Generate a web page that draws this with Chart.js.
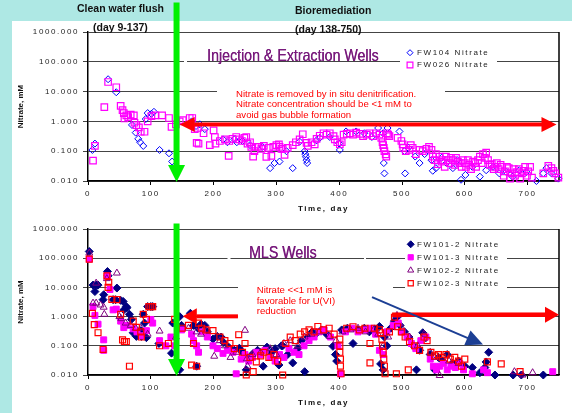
<!DOCTYPE html>
<html>
<head>
<meta charset="utf-8">
<script src="https://cdn.jsdelivr.net/npm/chart.js@4/dist/chart.umd.min.js"></script>
<style>
  html, body { margin: 0; padding: 0; }
  body { width: 572px; height: 413px; background: #aee8e4; position: relative; overflow: hidden; }
  #panel { position: absolute; left: 12px; top: 21px; width: 560px; height: 392px; background: #fff; }
  canvas { position: absolute; left: 0; }
  #wellChart { top: 0; }
  #mlsChart { top: 215px; }
</style>
</head>
<body>
<div id="panel"></div>
<canvas id="wellChart" width="572" height="215"></canvas>
<canvas id="mlsChart" width="572" height="198"></canvas>
<script>
//-- axis ticks --
const xTickValues = [0, 100, 200, 300, 400, 500, 600, 700];
const yTickValues = [0.01, 0.1, 1, 10, 100, 1000];
const yTickLabels = ['0.010', '0.100', '1.000', '10.000', '100.000', '1000.000'];

//-- Injection & Extraction wells, [day, nitrate mM] --
const fw104Label = 'FW104 Nitrate';
const fw104Nitrate = [
  [7,0.11],[11,0.18],[32,26],[45,9.5],[70,0.76],[76,0.42],[80,0.26],[83,0.2],[88,0.15],[92,1.2],
  [95,1.9],[101,1.8],[105,2.1],[114,0.11],[129,0.085],[134,0.045],[165,1.0],[172,0.7],[178,0.8],[186,0.55],
  [215,0.25],[222,0.2],[233,0.25],[237,0.2],[246,0.22],[258,0.16],[278,0.14],[290,0.027],[297,0.04],[305,0.045],
  [316,0.1],[326,0.027],[337,0.21],[345,0.1],[346,0.08],[347,0.065],[348,0.05],[349,0.04],[364,0.23],[369,0.28],
  [385,0.3],[400,0.18],[401,0.11],[411,0.46],[427,0.46],[440,0.4],[452,0.3],[462,0.6],[470,0.4],[471,0.04],
  [472,0.018],[477,0.6],[496,0.46],[504,0.1],[505,0.018],[510,0.13],[521,0.066],[528,0.04],[536,0.08],[547,0.05],
  [549,0.022],[554,0.027],[563,0.06],[571,0.04],[581,0.027],[588,0.05],[594,0.011],[601,0.016],[612,0.03],[624,0.014],
  [634,0.023],[645,0.03],[655,0.018],[666,0.02],[676,0.014],[687,0.023],[698,0.02],[714,0.01],[725,0.018],[730,0.027],
  [738,0.018],[749,0.012]
];
const fw026Label = 'FW026 Nitrate';
const fw026Nitrate = [
  [8,0.048],[11,0.15],[26,3.0],[32,21],[45,14],[52,3.3],[55,2.4],[57,1.9],[58,1.25],[61,1.6],
  [64,1.4],[68,1.7],[73,1.6],[74,0.9],[77,0.75],[81,0.63],[84,0.45],[90,0.45],[95,1.0],[101,1.5],
  [107,1.6],[118,1.6],[129,1.3],[133,0.66],[140,0.8],[146,1.0],[151,1.1],[162,1.3],[166,1.3],[170,0.55],
  [173,0.19],[175,0.6],[176,0.18],[184,0.4],[194,0.16],[200,0.5],[202,0.3],[203,0.18],[210,0.22],[218,0.25],
  [224,0.07],[225,0.22],[230,0.26],[236,0.3],[241,0.25],[245,0.22],[249,0.28],[252,0.3],[254,0.18],[258,0.2],
  [260,0.14],[263,0.066],[265,0.1],[267,0.14],[272,0.14],[276,0.12],[280,0.15],[284,0.065],[288,0.13],[292,0.07],
  [295,0.14],[300,0.16],[304,0.17],[305,0.14],[308,0.12],[310,0.12],[313,0.075],[318,0.13],[326,0.16],[331,0.2],
  [337,0.25],[342,0.37],[348,0.19],[350,0.15],[356,0.2],[361,0.17],[364,0.26],[369,0.33],[375,0.4],[380,0.36],
  [385,0.4],[391,0.32],[393,0.25],[397,0.2],[401,0.17],[404,0.2],[407,0.36],[412,0.38],[417,0.4],[422,0.36],
  [427,0.42],[433,0.38],[438,0.32],[444,0.36],[448,0.4],[454,0.32],[459,0.4],[464,0.36],[467,0.28],[469,0.2],
  [470,0.16],[471,0.13],[472,0.1],[474,0.078],[475,0.066],[476,0.4],[478,0.36],[480,0.32],[493,0.28],[499,0.22],
  [501,0.17],[502,0.13],[506,0.1],[512,0.11],[514,0.16],[517,0.13],[522,0.08],[528,0.11],[533,0.1],[539,0.12],
  [543,0.14],[547,0.11],[549,0.066],[552,0.05],[554,0.08],[557,0.037],[560,0.066],[563,0.045],[565,0.05],[568,0.03],
  [570,0.066],[573,0.05],[576,0.04],[578,0.06],[581,0.05],[584,0.035],[586,0.06],[589,0.045],[592,0.04],[595,0.03],
  [597,0.05],[600,0.04],[602,0.03],[605,0.05],[607,0.035],[610,0.025],[613,0.045],[616,0.04],[618,0.03],[621,0.05],
  [624,0.066],[627,0.04],[629,0.08],[632,0.06],[634,0.09],[637,0.05],[640,0.035],[643,0.037],[646,0.025],[648,0.03],
  [651,0.04],[654,0.025],[657,0.035],[659,0.03],[662,0.015],[664,0.021],[667,0.03],[670,0.027],[672,0.012],[675,0.018],
  [678,0.025],[680,0.015],[683,0.02],[686,0.025],[688,0.012],[691,0.018],[694,0.022],[696,0.03],[699,0.015],[701,0.021],
  [704,0.03],[707,0.013],[725,0.018],[733,0.032],[738,0.027],[741,0.022],[744,0.018],[749,0.013]
];

//-- MLS wells, [day, nitrate mM] --
const fw101_2Label = 'FW101-2 Nitrate';
const fw101_2Nitrate = [
  [2,170],[8,12],[11,7.2],[13,12],[16,12],[24,3.8],[25,5.6],[31,35],[32,25],[40,3.8],
  [44,3.8],[46,9.5],[52,3.6],[56,3.3],[57,1.7],[61,2.2],[62,2.0],[66,1.2],[69,0.8],[72,0.28],
  [77,0.21],[84,0.33],[85,0.21],[88,1.2],[90,0.6],[93,0.19],[95,2.2],[100,2.2],[103,2.2],[113,0.12],
  [133,0.056],[135,0.6],[146,1.0],[146,0.015],[149,0.5],[163,1.3],[168,0.5],[173,0.02],[175,0.4],[180,0.55],
  [186,0.5],[190,0.3],[199,0.17],[206,0.21],[212,0.2],[216,0.13],[224,0.09],[233,0.07],[241,0.083],[246,0.06],
  [252,0.015],[258,0.04],[263,0.055],[270,0.07],[279,0.02],[285,0.09],[292,0.06],[298,0.08],[304,0.022],[308,0.1],
  [310,0.1],[318,0.05],[326,0.026],[334,0.08],[340,0.15],[345,0.013],[350,0.2],[357,0.3],[364,0.27],[372,0.35],
  [380,0.25],[390,0.096],[394,0.05],[396,0.03],[404,0.35],[413,0.4],[422,0.12],[430,0.35],[440,0.4],[448,0.3],
  [456,0.38],[464,0.46],[466,0.024],[470,0.015],[472,0.2],[476,0.1],[482,0.4],[488,0.7],[492,0.95],[497,0.5],
  [504,0.3],[511,0.2],[518,0.1],[523,0.015],[528,0.07],[533,0.28],[538,0.19],[545,0.05],[552,0.015],[558,0.04],
  [565,0.03],[572,0.05],[580,0.025],[590,0.03],[600,0.02],[612,0.018],[624,0.012],[632,0.018],[634,0.028],[638,0.06],
  [648,0.01],[677,0.01],[690,0.01],[725,0.01]
];
const fw101_3Label = 'FW101-3 Nitrate';
const fw101_3Nitrate = [
  [2,93],[8,2.2],[11,1.1],[16,0.55],[25,0.16],[25,0.07],[31,25],[35,8.5],[40,1.7],[45,1.8],
  [52,0.7],[57,0.42],[62,0.5],[72,0.38],[78,0.3],[85,0.22],[93,0.33],[100,0.8],[103,0.6],[114,0.15],
  [124,0.1],[132,0.2],[138,0.1],[149,0.35],[165,0.25],[168,0.15],[173,0.1],[176,0.06],[182,0.3],[190,0.2],
  [199,0.1],[206,0.08],[215,0.055],[222,0.07],[231,0.06],[236,0.011],[244,0.035],[250,0.05],[256,0.03],[262,0.04],
  [268,0.06],[275,0.05],[282,0.07],[290,0.04],[298,0.03],[305,0.05],[312,0.04],[320,0.08],[328,0.06],[336,0.05],
  [344,0.1],[352,0.15],[360,0.2],[368,0.3],[376,0.35],[386,0.2],[398,0.1],[402,0.011],[410,0.3],[420,0.4],
  [430,0.3],[440,0.35],[450,0.4],[458,0.25],[464,0.07],[470,0.05],[476,0.3],[486,0.5],[494,0.6],[500,0.3],
  [508,0.2],[515,0.12],[522,0.08],[530,0.15],[538,0.2],[545,0.035],[550,0.02],[555,0.015],[560,0.02],[566,0.025],
  [572,0.015],[578,0.02],[585,0.018],[592,0.025],[598,0.015],[612,0.011],[630,0.015],[636,0.012],[740,0.013]
];
const fw102_2Label = 'FW102-2 Nitrate';
const fw102_2Nitrate = [
  [2,150],[8,2.9],[13,14],[13,2.9],[20,2.5],[25,2.1],[26,1.2],[30,20],[46,31],[50,1.0],
  [53,0.85],[60,0.6],[68,0.5],[76,0.4],[84,0.4],[95,0.25],[114,0.32],[140,0.2],[160,0.4],[173,0.3],
  [180,0.25],[190,0.35],[201,0.044],[210,0.15],[218,0.1],[227,0.04],[236,0.06],[250,0.34],[253,0.036],[254,0.02],
  [262,0.05],[275,0.06],[290,0.08],[300,0.05],[312,0.12],[322,0.15],[334,0.1],[345,0.2],[356,0.25],[368,0.3],
  [385,0.21],[395,0.15],[405,0.3],[418,0.35],[430,0.4],[442,0.3],[455,0.35],[462,0.25],[470,0.1],[478,0.2],
  [492,1.1],[500,0.4],[512,0.2],[525,0.1],[535,0.25],[545,0.06],[552,0.04],[560,0.0096],[575,0.03],[590,0.025],
  [679,0.013],[692,0.01],[708,0.012]
];
const fw102_3Label = 'FW102-3 Nitrate';
const fw102_3Nitrate = [
  [2,93],[7,1.3],[10,0.53],[16,0.28],[24,0.075],[30,25],[32,10],[33,15],[38,3.9],[46,3.8],
  [52,1.2],[55,0.16],[58,0.14],[61,0.14],[66,0.02],[72,0.7],[77,0.43],[84,0.3],[85,0.2],[88,1.2],
  [93,0.8],[97,2.2],[100,2.2],[103,2.2],[114,0.1],[128,0.12],[138,0.8],[150,0.4],[160,0.5],[165,0.022],
  [168,0.12],[173,0.02],[176,0.6],[181,0.4],[188,0.35],[199,0.33],[210,0.2],[218,0.15],[226,0.12],[233,0.08],
  [240,0.24],[246,0.06],[250,0.12],[252,0.01],[258,0.04],[263,0.013],[268,0.028],[275,0.045],[280,0.06],[288,0.04],
  [296,0.05],[302,0.03],[310,0.01],[315,0.12],[322,0.2],[330,0.15],[338,0.25],[345,0.3],[352,0.35],[360,0.3],
  [366,0.46],[375,0.35],[384,0.4],[392,0.25],[401,0.17],[401,0.1],[401,0.06],[402,0.035],[402,0.02],[403,0.011],
  [412,0.4],[422,0.45],[432,0.35],[441,0.4],[449,0.12],[449,0.026],[456,0.4],[464,0.35],[466,0.28],[468,0.17],
  [469,0.1],[470,0.06],[471,0.035],[472,0.02],[473,0.011],[480,0.3],[488,0.95],[491,0.011],[493,0.45],[499,0.3],
  [505,0.2],[510,0.015],[512,0.14],[520,0.1],[528,0.07],[535,0.2],[540,0.15],[546,0.06],[552,0.045],[558,0.05],
  [564,0.04],[570,0.05],[577,0.035],[584,0.04],[590,0.03],[595,0.02],[600,0.035],[636,0.028],[658,0.024],[688,0.013]
];

const FONT = '"Liberation Sans", Arial, sans-serif';
Chart.defaults.font.family = FONT;

const toXY = pts => pts.map(p => ({ x: p[0], y: p[1] }));

//-- draws a filled arrow from (x1,y1) to (x2,y2), pixels --
function drawArrow(ctx, x1, y1, x2, y2, s) {
  const len = Math.hypot(x2 - x1, y2 - y1);
  const hl = s.headLength, hw = s.headWidth;
  const start = s.both ? hl : 0;
  ctx.save();
  ctx.translate(x1, y1);
  ctx.rotate(Math.atan2(y2 - y1, x2 - x1));
  ctx.fillStyle = s.color;
  ctx.fillRect(start - 0.5, -s.width / 2, len - hl - start + 1, s.width);
  ctx.beginPath();
  ctx.moveTo(len, 0); ctx.lineTo(len - hl, -hw); ctx.lineTo(len - hl, hw); ctx.closePath();
  if (s.both) { ctx.moveTo(0, 0); ctx.lineTo(hl, -hw); ctx.lineTo(hl, hw); ctx.closePath(); }
  ctx.fill();
  ctx.restore();
}

//-- plugin: frame, text boxes, legend, arrows, page headers --
const wellNotes = {
  id: 'wellNotes',
  beforeDraw(chart) {
    chart.ctx.letterSpacing = '1.6px';
  },
  beforeDatasetsDraw(chart, args, o) {
    const { ctx, chartArea: a } = chart;
    ctx.save();
    ctx.strokeStyle = '#000';
    ctx.lineWidth = 1.5;
    ctx.beginPath(); ctx.moveTo(a.right, a.top); ctx.lineTo(a.right, a.bottom); ctx.stroke();

    //-- white text boxes break the grid lines --
    ctx.fillStyle = '#fff';
    o.boxes.forEach(b => ctx.fillRect(b[0], b[1], b[2], b[3]));

    ctx.letterSpacing = '0px';
    ctx.textAlign = 'left';
    ctx.textBaseline = 'alphabetic';
    ctx.fillStyle = '#781a7c';
    ctx.font = '16.5px ' + FONT;
    ctx.save();
    ctx.translate(o.title.x, o.title.y);
    ctx.scale(0.86, 1);
    ctx.fillText(o.title.text, 0, 0);
    ctx.fillText(o.title.text, 0.35, 0);
    ctx.restore();

    ctx.fillStyle = '#ff0000';
    ctx.font = '9.6px ' + FONT;
    o.note.lines.forEach((t, i) => ctx.fillText(t, o.note.x, o.note.y + i * o.note.lineHeight));

    //-- legend --
    ctx.letterSpacing = '1.6px';
    ctx.font = '8px ' + FONT;
    ctx.textBaseline = 'middle';
    chart.data.datasets.forEach((ds, i) => {
      const y = o.legend.y + i * o.legend.rowHeight;
      ctx.fillStyle = ds.backgroundColor;
      ctx.strokeStyle = ds.borderColor;
      ctx.lineWidth = ds.borderWidth;
      Chart.helpers.drawPoint(ctx, { pointStyle: ds.pointStyle, radius: ds.pointRadius - 0.5, rotation: 0, borderWidth: ds.borderWidth }, o.legend.x, y);
      ctx.fillStyle = '#222';
      ctx.fillText(ds.label, o.legend.textX, y);
    });
    ctx.restore();
  },
  afterDatasetsDraw(chart, args, o) {
    const { ctx, chartArea: a, scales: { x, y } } = chart;
    o.arrows.forEach(ar => {
      if (ar.drop) {
        const px = x.getPixelForValue(ar.day);
        drawArrow(ctx, px, ar.top, px, a.bottom + 1, ar);
      } else {
        drawArrow(ctx, x.getPixelForValue(ar.x1), y.getPixelForValue(ar.y1),
          x.getPixelForValue(ar.x2), y.getPixelForValue(ar.y2), ar);
      }
    });
  },
  afterDraw(chart, args, o) {
    const { ctx, chartArea: a } = chart;
    ctx.save();
    ctx.letterSpacing = '0px';
    ctx.fillStyle = '#111';
    ctx.font = 'bold 8px ' + FONT;
    ctx.textAlign = 'center';
    ctx.textBaseline = 'middle';
    ctx.translate(21, (a.top + a.bottom) / 2);
    ctx.rotate(-Math.PI / 2);
    ctx.fillText('Nitrate, mM', 0, 0);
    ctx.restore();

    ctx.save();
    ctx.letterSpacing = '0px';
    ctx.fillStyle = '#111';
    ctx.font = 'bold 10.5px ' + FONT;
    ctx.textAlign = 'left';
    ctx.textBaseline = 'middle';
    (o.header || []).forEach(h => ctx.fillText(h.text, h.x, h.y));
    ctx.restore();
  }
};

function buildOptions(cfg) {
  return {
    responsive: false,
    animation: false,
    events: [],
    layout: { padding: { left: 0, right: 13, top: cfg.top, bottom: 0 } },
    scales: {
      x: {
        type: 'linear', min: 0, max: 750,
        afterBuildTicks: s => { s.ticks = xTickValues.map(v => ({ value: v })); },
        afterFit: s => { s.height = cfg.xHeight; },
        ticks: { autoSkip: false, maxRotation: 0, padding: 4, color: '#1e1e1e', font: { size: 8 } },
        grid: { drawOnChartArea: false, tickLength: 4, color: '#000' },
        border: { color: '#000', width: 1.5 },
        title: { display: true, text: 'Time, day', color: '#111', font: { size: 8, weight: 'bold' }, padding: { top: 0, bottom: cfg.titlePad } }
      },
      y: {
        type: 'logarithmic', min: 0.01, max: 1000,
        afterBuildTicks: s => { s.ticks = yTickValues.map(v => ({ value: v })); },
        afterFit: s => { s.width = 88; },
        ticks: { padding: 4, color: '#1e1e1e', font: { size: 8 }, callback: v => yTickLabels[yTickValues.indexOf(v)] },
        grid: { color: '#444', lineWidth: 1, tickLength: 5 },
        border: { color: '#000', width: 1.5 }
      }
    },
    plugins: {
      legend: { display: false },
      tooltip: { enabled: false },
      wellNotes: cfg.notes
    }
  };
}

const green = { color: '#00f000', width: 6, headLength: 17, headWidth: 8.5 };
const red = { color: '#ff0000', width: 4, headLength: 15, headWidth: 7.5 };

//-- Injection & Extraction wells chart --
new Chart(document.getElementById('wellChart'), {
  type: 'scatter',
  data: {
    datasets: [
      { label: fw104Label, data: toXY(fw104Nitrate), pointStyle: 'rectRot', pointRadius: 3.5, borderWidth: 1, borderColor: '#0000ff', backgroundColor: 'rgba(0,0,0,0)', order: 2, clip: false },
      { label: fw026Label, data: toXY(fw026Nitrate), pointStyle: 'rect', pointRadius: 4.6, borderWidth: 1.2, borderColor: '#ff00ff', backgroundColor: 'rgba(0,0,0,0)', order: 1, clip: false }
    ]
  },
  options: buildOptions({
    top: 32, xHeight: 34, titlePad: 1.6,
    notes: {
      boxes: [[184, 58, 3, 7], [400, 44, 97, 28], [217, 84, 228, 37]],
      title: { text: 'Injection & Extraction Wells', x: 207, y: 60.5 },
      note: { x: 236, y: 96.7, lineHeight: 10.5, lines: ['Nitrate is removed by in situ denitrification.', 'Nitrate concentration should be <1 mM to', 'avoid gas bubble formation'] },
      legend: { x: 410, y: 52.7, rowHeight: 12.3, textX: 417 },
      arrows: [
        Object.assign({ drop: true, day: 141, top: 3 }, green),
        Object.assign({ x1: 146, y1: 0.79, x2: 746, y2: 0.79, both: true }, red)
      ],
      header: [
        { text: 'Clean water flush', x: 77, y: 9.5 },
        { text: '(day 9-137)', x: 93, y: 28.5 },
        { text: 'Bioremediation', x: 295, y: 11 },
        { text: '(day 138-750)', x: 295, y: 30.5 }
      ]
    }
  }),
  plugins: [wellNotes]
});

//-- MLS wells chart --
new Chart(document.getElementById('mlsChart'), {
  type: 'scatter',
  data: {
    datasets: [
      { label: fw101_2Label, data: toXY(fw101_2Nitrate), pointStyle: 'rectRot', pointRadius: 4, borderWidth: 1, borderColor: '#000080', backgroundColor: '#000080', order: 4, clip: false },
      { label: fw101_3Label, data: toXY(fw101_3Nitrate), pointStyle: 'rect', pointRadius: 4.2, borderWidth: 1, borderColor: '#ff00ff', backgroundColor: '#ff00ff', order: 3, clip: false },
      { label: fw102_2Label, data: toXY(fw102_2Nitrate), pointStyle: 'triangle', pointRadius: 4, borderWidth: 1, borderColor: '#800080', backgroundColor: 'rgba(0,0,0,0)', order: 2, clip: false },
      { label: fw102_3Label, data: toXY(fw102_3Nitrate), pointStyle: 'rect', pointRadius: 4.2, borderWidth: 1.2, borderColor: '#ff0000', backgroundColor: 'rgba(0,0,0,0)', order: 1, clip: false }
    ]
  },
  options: buildOptions({
    top: 14, xHeight: 38, titlePad: 5.6,
    notes: {
      boxes: [[227.5, 41, 3, 7], [364, 41, 2, 7], [405, 21, 102, 57], [238, 66, 155, 38]],
      title: { text: 'MLS Wells', x: 249, y: 43.3 },
      note: { x: 256.7, y: 78.3, lineHeight: 10.3, lines: ['Nitrate <<1 mM is', 'favorable for U(VI)', 'reduction'] },
      legend: { x: 410.7, y: 29.3, rowHeight: 13, textX: 417 },
      arrows: [
        Object.assign({ drop: true, day: 141, top: 9 }, green),
        Object.assign({ x1: 238, y1: 1.02, x2: 151, y2: 1.02 }, red, { headLength: 14, headWidth: 8 }),
        Object.assign({ x1: 485, y1: 1.16, x2: 750, y2: 1.16 }, red, { headLength: 14, headWidth: 8, width: 4.5 }),
        { x1: 453, y1: 4.6, x2: 629, y2: 0.11, color: '#1c3f94', width: 2, headLength: 17, headWidth: 8 }
      ]
    }
  }),
  plugins: [wellNotes]
});
</script>
</body>
</html>
